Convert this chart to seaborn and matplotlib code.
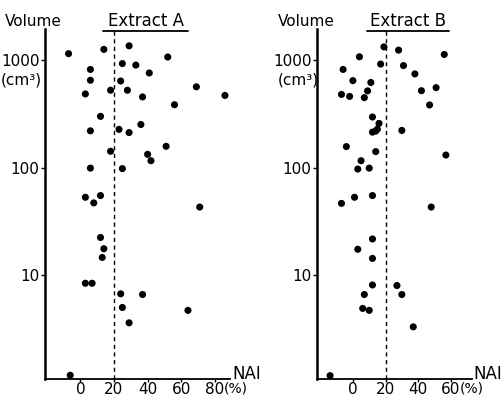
import numpy as np
import pandas as pd
import seaborn as sns
import matplotlib.pyplot as plt
from matplotlib.lines import Line2D

# Extract A: NAI (%) and volume (cm3)
nai_a = [-7, 14, 29, 52, 25, 33, 6, 41, 6, 24, 69, 18, 28, 3, 86, 37, 56,
         12, 6, 23, 29, 36, 51, 18, 40, 42, 6, 25, 3, 12, 8, 71, 12, 14,
         13, 3, 7, 24, 37, 25, 64, 29, -6]
vol_a = [1150, 1260, 1360, 1070, 930, 900, 820, 760, 650, 640, 565, 525,
         525, 485, 470, 455, 385, 300, 220, 227, 212, 252, 158, 142, 133,
         116, 99, 98, 53, 55, 47, 43, 22.4, 17.6, 14.6, 8.4, 8.4, 6.7,
         6.6, 5.0, 4.7, 3.6, 1.17]

# Extract B
nai_b = [19, 28, 56, 4, 17, 31, -6, 38, 0, 11, 51, 42, 9, -7, -2, 7, 47,
         12, 16, 15, 14, 12, 30, -4, 14, 57, 5, 3, 10, -7, 1, 12, 48, 12,
         3, 12, 12, 27, 7, 30, 6, 10, 37, -14]
vol_b = [1330, 1240, 1130, 1075, 920, 890, 820, 745, 645, 620, 555, 520,
         518, 480, 460, 448, 383, 296, 258, 228, 219, 214, 222, 157, 141,
         131, 116, 97, 99, 46.5, 53, 55, 43, 21.7, 17.4, 14.3, 8.1, 8.0,
         6.6, 6.6, 4.9, 4.7, 3.3, 1.16]

xticks_a = [0, 20, 40, 60, 80]
xticks_b = [0, 20, 40, 60]

df_a = pd.DataFrame({"nai": nai_a, "vol": vol_a})
df_b = pd.DataFrame({"nai": nai_b, "vol": vol_b})

sns.set_style("ticks")
plt.rcParams["font.family"] = ["DejaVu Sans"]
plt.rcParams["text.color"] = "black"

W, H = 504, 400
fig = plt.figure(figsize=(W / 100, H / 100), dpi=100)


def px(x, y):
    # figure pixel (from top-left) to figure fraction
    return x / W, 1 - y / H


panels = [
    (df_a, xticks_a, (-21, 89), (45, 230), "Extract A", (103, 188), 5, 1, 232),
    (df_b, xticks_b, (-22, 73), (317, 472), "Extract B", (367, 449), 278, 278, 473),
]

for df, xticks, xlim, (x0, x1), title, (u0, u1), vx, cx, naix in panels:
    top, bottom = 29, 379
    ax = fig.add_axes([x0 / W, 1 - bottom / H, (x1 - x0) / W, (bottom - top) / H])
    sns.scatterplot(data=df, x="nai", y="vol", ax=ax, color="black",
                    s=26, edgecolor="none", legend=False)
    ax.set_yscale("log")
    ax.set_ylim(1.08, 1950)
    ax.set_xlim(*xlim)
    ax.axvline(20, color="black", lw=1, ls=(0, (3, 2.5)))

    ax.set_yticks([10, 100, 1000])
    ax.set_yticklabels(["10", "100", "1000"])
    ax.yaxis.set_minor_locator(plt.NullLocator())
    ax.set_xticks(xticks)
    ax.set_xticklabels([str(t) for t in xticks])
    ax.tick_params(axis="y", labelsize=11, length=3, width=1, pad=1,
                   colors="black")
    ax.tick_params(axis="x", labelsize=11, length=2, width=1, pad=0,
                   colors="black")
    ax.set_xlabel("")
    ax.set_ylabel("")
    sns.despine(ax=ax)
    ax.spines["left"].set_linewidth(1.8)
    ax.spines["bottom"].set_linewidth(1.3)
    ax.spines["left"].set_color("black")
    ax.spines["bottom"].set_color("black")

    # labels around the axes
    fig.text(*px(vx, 22), "Volume", fontsize=11, va="center", ha="left")
    fig.text(*px(cx, 80), "(cm³)", fontsize=11, va="center", ha="left")
    fig.text(*px((u0 + u1) / 2, 21), title, fontsize=12, va="center",
             ha="center")
    fig.add_artist(Line2D([u0 / W, u1 / W], [1 - 31 / H, 1 - 31 / H],
                          color="black", lw=1.3, transform=fig.transFigure))
    fig.text(*px(naix, 374), "NAI", fontsize=12, va="center", ha="left")
    last = xticks[-1]
    xt = ax.transData.transform((last, 1))[0]
    fig.text((xt + 9) / W, 1 - 388 / H, "(%)", fontsize=10, va="center",
             ha="left")

plt.savefig("out.png", dpi=100)
